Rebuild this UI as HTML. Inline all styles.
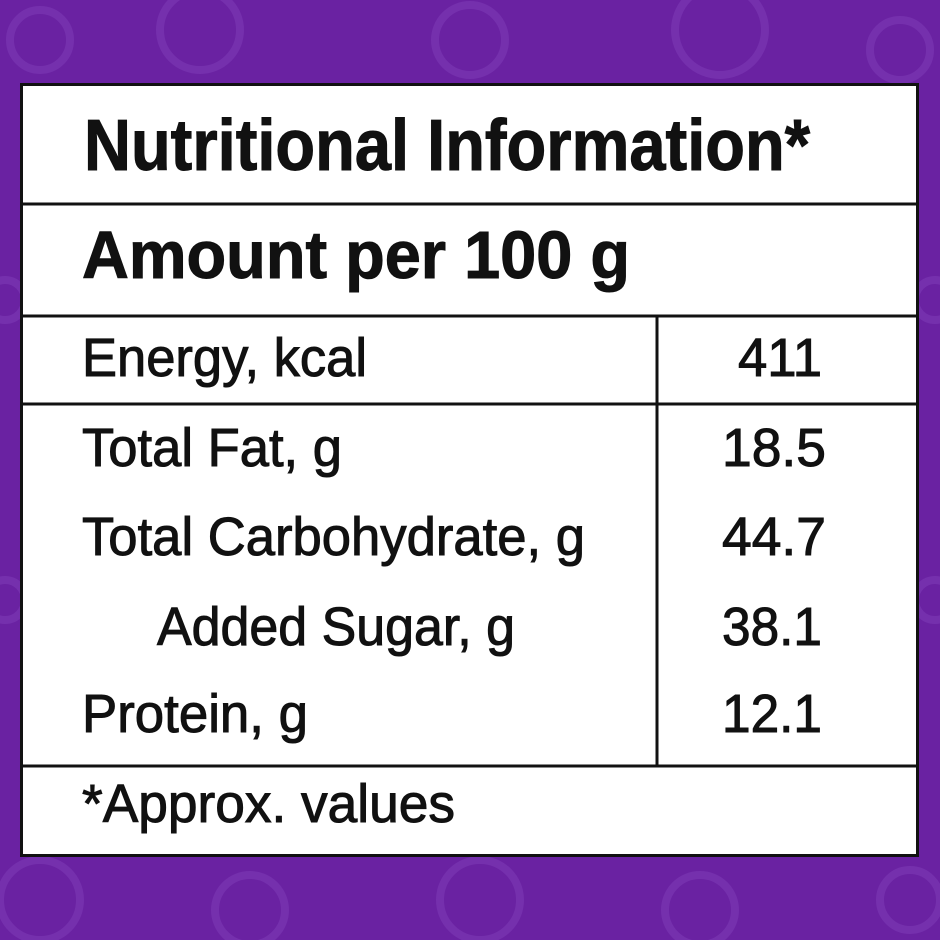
<!DOCTYPE html>
<html><head><style>html,body{margin:0;padding:0;width:940px;height:940px;overflow:hidden;background:#6a22a2}</style></head>
<body>
<svg width="940" height="940" xmlns="http://www.w3.org/2000/svg">
<rect width="940" height="940" fill="#6a22a2"/>
<g fill="none" stroke="#7a36b2" stroke-width="8" opacity="0.7">
<circle cx="40" cy="40" r="30"/><circle cx="200" cy="30" r="40"/><circle cx="470" cy="40" r="35"/><circle cx="720" cy="30" r="45"/><circle cx="900" cy="50" r="30"/>
<circle cx="40" cy="900" r="40"/><circle cx="250" cy="910" r="35"/><circle cx="480" cy="900" r="40"/><circle cx="700" cy="910" r="35"/><circle cx="910" cy="900" r="30"/>
<circle cx="5" cy="300" r="20"/><circle cx="5" cy="600" r="20"/><circle cx="935" cy="300" r="20"/><circle cx="935" cy="600" r="20"/>
</g>
<rect x="21.5" y="84.5" width="896" height="771" fill="#fff" stroke="#111" stroke-width="3"/>
<g stroke="#111" stroke-width="3">
<line x1="21" y1="204" x2="918" y2="204"/>
<line x1="21" y1="316" x2="918" y2="316"/>
<line x1="21" y1="404" x2="918" y2="404"/>
<line x1="21" y1="766" x2="918" y2="766"/>
<line x1="657" y1="316" x2="657" y2="766"/>
</g>
<g font-family="Liberation Sans, sans-serif" fill="#111" stroke="#111">
<text x="84" y="170" font-size="72" font-weight="bold" stroke-width="1" textLength="726" lengthAdjust="spacingAndGlyphs">Nutritional Information*</text>
<text x="82" y="278" font-size="67" font-weight="bold" stroke-width="1" textLength="548" lengthAdjust="spacingAndGlyphs">Amount per 100 g</text>
<g font-size="54" stroke-width="1">
<text x="82" y="376" textLength="285" lengthAdjust="spacingAndGlyphs">Energy, kcal</text>
<text x="738" y="376" textLength="84" lengthAdjust="spacingAndGlyphs">411</text>
<text x="82" y="466" textLength="260" lengthAdjust="spacingAndGlyphs">Total Fat, g</text>
<text x="722" y="466" textLength="104" lengthAdjust="spacingAndGlyphs">18.5</text>
<text x="82" y="555" textLength="503" lengthAdjust="spacingAndGlyphs">Total Carbohydrate, g</text>
<text x="722" y="555" textLength="104" lengthAdjust="spacingAndGlyphs">44.7</text>
<text x="157" y="645" textLength="358" lengthAdjust="spacingAndGlyphs">Added Sugar, g</text>
<text x="722" y="645" textLength="100" lengthAdjust="spacingAndGlyphs">38.1</text>
<text x="82" y="732" textLength="226" lengthAdjust="spacingAndGlyphs">Protein, g</text>
<text x="722" y="732" textLength="100" lengthAdjust="spacingAndGlyphs">12.1</text>
<text x="82" y="822" textLength="373" lengthAdjust="spacingAndGlyphs">*Approx. values</text>
</g>
</g>
</svg>
</body></html>
